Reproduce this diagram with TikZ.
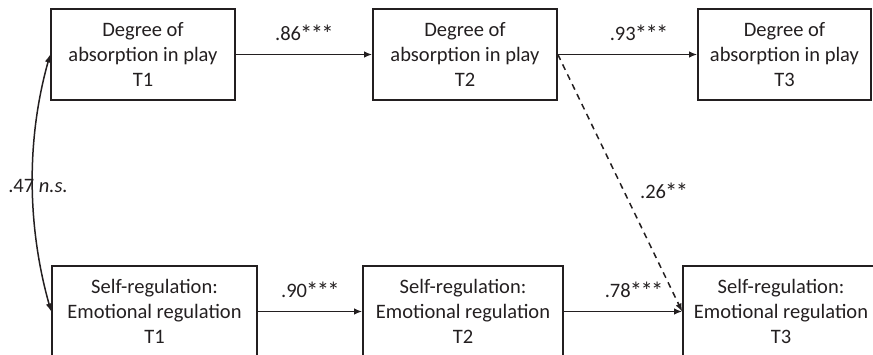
\documentclass[tikz,border=0pt]{standalone}
\usepackage{fontspec}
\usepackage{graphicx}
\setmainfont{Carlito}
\usetikzlibrary{arrows.meta}
\definecolor{ink}{HTML}{231F20}
% significance star, a little larger than the font's own, set tight
\newcommand\sigstar{\kern-0.04em\raisebox{-0.2ex}{\scalebox{1.2}{*}}\kern-0.04em}
\begin{document}
\begin{tikzpicture}[x=1pt,y=-1pt,
  box/.style={draw=ink, line width=1.7pt, rectangle, minimum height=91pt,
    align=center, inner sep=0pt, text=ink, font=\fontsize{20.5}{25}\selectfont},
  link/.style={draw=ink, line width=1.5pt, -{Latex[length=8pt,width=6.5pt]}},
  lab/.style={text=ink, inner sep=0pt, font=\fontsize{20.5}{25}\selectfont}]
\useasboundingbox (0,0) rectangle (873,355);
\clip (0,0) rectangle (873,355);

% absorption in play, three waves
\node[box, minimum width=184pt] (a1) at (143,54.5) {Degree of\\absorption in play\\T1};
\node[box, minimum width=184pt] (a2) at (465,54.5) {Degree of\\absorption in play\\T2};
\node[box, minimum width=173pt] (a3) at (784.5,54.5) {Degree of\\absorption in play\\T3};

% emotional regulation, three waves
\node[box, minimum width=205pt] (b1) at (154.5,311.5) {Self-regulation:\\Emotional regulation\\T1};
\node[box, minimum width=200pt] (b2) at (463,311.5) {Self-regulation:\\Emotional regulation\\T2};
\node[box, minimum width=196pt] (b3) at (781,311.5) {Self-regulation:\\Emotional regulation\\T3};

% stability paths
\draw[link] (a1.east) -- node[lab, midway, above=11pt] {.86\sigstar\sigstar\sigstar} (a2.west);
\draw[link] (a2.east) -- node[lab, pos=0.58, above=11pt] {.93\sigstar\sigstar\sigstar} (a3.west);
\draw[link] (b1.east) -- node[lab, midway, above=11pt] {.90\sigstar\sigstar\sigstar} (b2.west);
\draw[link] (b2.east) -- node[lab, pos=0.59, above=11pt] {.78\sigstar\sigstar\sigstar} (b3.west);

% cross-lagged path
\draw[link, dash pattern=on 6pt off 5pt] (a2.east) -- node[lab, pos=0.535, right=15pt] {.26\sigstar\sigstar} (b3.west);

% T1 correlation
\draw[link, {Latex[length=8pt,width=6.5pt]}-{Latex[length=8pt,width=6.5pt]}]
  (a1.west) .. controls +(-24,85) and +(-24,-85) .. (b1.west);
\node[lab] (r) at (38,186) {.47 \textit{n.s.}};
\end{tikzpicture}
\end{document}
